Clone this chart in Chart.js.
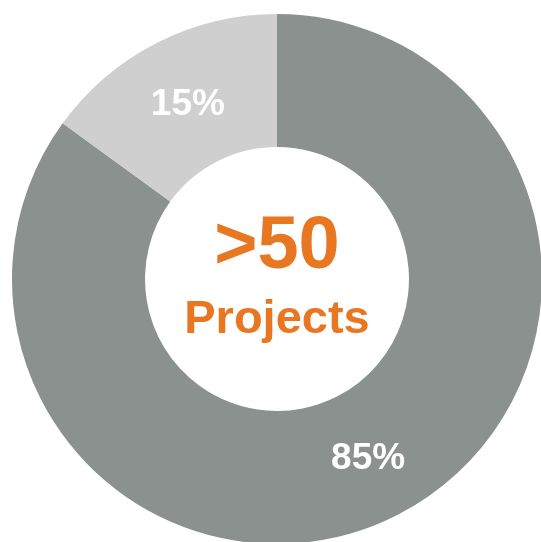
<!DOCTYPE html>
<html>
<head>
<meta charset="utf-8">
<script src="https://cdn.jsdelivr.net/npm/chart.js@4"></script>
<style>
  html, body { margin: 0; padding: 0; background: #fff; overflow: hidden; width: 541px; height: 542px; }
  #wrap { position: absolute; left: 12px; top: 14px; width: 530px; height: 530px; }
</style>
</head>
<body>
<div id="wrap"><canvas id="myChart"></canvas></div>
<script>
var labels = ["Other", "Share"];
var values = [85, 15];
var valueLabels = ["85%", "15%"];
var colors = ["#8a918f", "#d0cfd0"];
var centerTitle = ">50";
var centerSub = "Projects";

// draws percentages on the slices and the text in the hole
var textPlugin = {
  id: 'texts',
  afterDatasetsDraw: function(chart) {
    var c = chart.ctx;
    var meta = chart.getDatasetMeta(0);
    c.save();
    c.textAlign = 'center';
    c.textBaseline = 'middle';
    c.fillStyle = '#ffffff';
    c.font = 'bold 37px "Liberation Sans", Arial, sans-serif';
    meta.data.forEach(function(arc, i) {
      var p = arc.tooltipPosition();
      c.fillText(valueLabels[i], p.x + 1, p.y + 3);
    });
    var cx = meta.data[0].x, cy = meta.data[0].y;
    c.fillStyle = '#e87722';
    c.textBaseline = 'alphabetic';
    c.font = 'bold 74px "Liberation Sans", Arial, sans-serif';
    c.fillText(centerTitle, cx, cy - 11);
    c.font = 'bold 47px "Liberation Sans", Arial, sans-serif';
    c.fillText(centerSub, cx, cy + 54);
    c.restore();
  }
};

var ctx = document.getElementById('myChart').getContext('2d');
var myChart = new Chart(ctx, {
  type: 'doughnut',
  data: {
    labels: labels,
    datasets: [{
      data: values,
      backgroundColor: colors,
      borderWidth: 0
    }]
  },
  options: {
    responsive: true,
    maintainAspectRatio: false,
    animation: false,
    cutout: '49.8%',
    layout: { padding: 0 },
    plugins: {
      legend: { display: false },
      tooltip: { enabled: false }
    }
  },
  plugins: [textPlugin]
});
</script>
</body>
</html>
